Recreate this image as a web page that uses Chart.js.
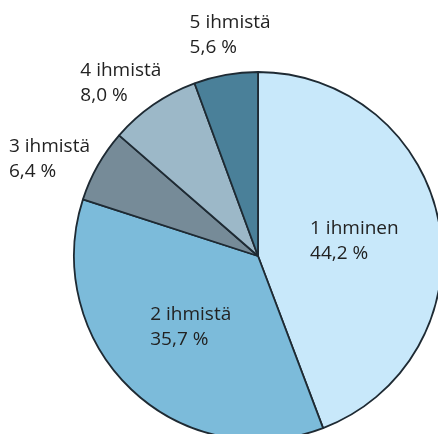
<!DOCTYPE html>
<html>
<head>
<meta charset="utf-8">
<title>Kotitaloudet koon mukaan</title>
<script src="https://cdn.jsdelivr.net/npm/chart.js"></script>
<style>
  html, body { margin: 0; padding: 0; background: #fff; overflow: hidden; }
  canvas { display: block; }
</style>
</head>
<body>
<canvas id="pieChart" width="438" height="434"></canvas>
<script>
// household size shares
const labels = ['1 ihminen', '2 ihmistä', '3 ihmistä', '4 ihmistä', '5 ihmistä'];
const shares = [44.2, 35.7, 6.4, 8.0, 5.6];
const sliceColors = ['#c8e8fa', '#7cbbda', '#768b98', '#9cb8c8', '#4a8099'];
// label placement: distance from centre (fraction of radius) and angle nudge in degrees
const labelRadius = [0.53, 0.53, 1.25, 1.2, 1.21];
const labelNudge = [1.5, 0, -4.5, -3.8, 2.9];

const fmt = v => v.toFixed(1).replace('.', ',') + ' %';

const sliceLabels = {
  id: 'sliceLabels',
  afterDatasetsDraw(chart) {
    const ctx = chart.ctx;
    const meta = chart.getDatasetMeta(0);
    ctx.save();
    ctx.font = '19px "Open Sans", sans-serif';
    ctx.fillStyle = '#222';
    ctx.textBaseline = 'middle';
    ctx.textAlign = 'left';
    meta.data.forEach((arc, i) => {
      const mid = (arc.startAngle + arc.endAngle) / 2 + labelNudge[i] * Math.PI / 180;
      const r = arc.outerRadius * labelRadius[i];
      const x = arc.x + Math.cos(mid) * r;
      const y = arc.y + Math.sin(mid) * r;
      const lines = [labels[i], fmt(shares[i])];
      const w = Math.max(...lines.map(l => ctx.measureText(l).width));
      const lh = 25;
      lines.forEach((l, k) => {
        ctx.fillText(l, x - w / 2, y + (k - 0.5) * lh);
      });
    });
    ctx.restore();
  }
};

new Chart(document.getElementById('pieChart').getContext('2d'), {
  type: 'pie',
  data: {
    labels: labels,
    datasets: [{
      data: shares,
      backgroundColor: sliceColors,
      borderColor: '#1e2a33',
      borderWidth: 1.8,
      hoverOffset: 0,
      clip: false
    }]
  },
  options: {
    responsive: false,
    animation: false,
    radius: 184,
    layout: { padding: { left: 78, top: 78, right: 0, bottom: 0 } },
    plugins: {
      legend: { display: false },
      tooltip: { enabled: false }
    }
  },
  plugins: [sliceLabels]
});
</script>
</body>
</html>
